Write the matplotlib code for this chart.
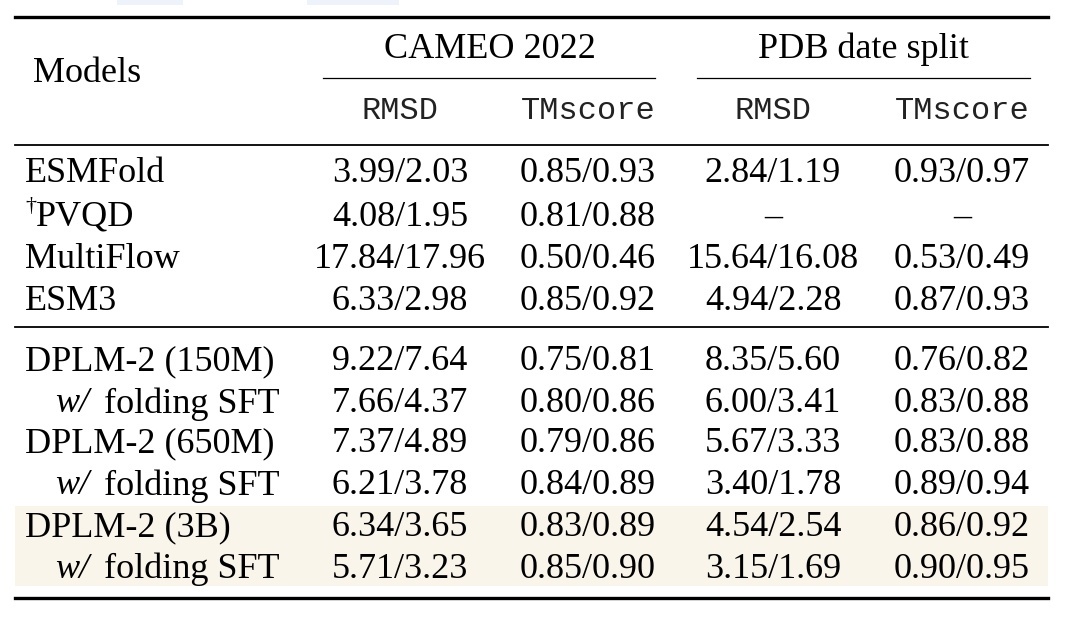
import matplotlib
matplotlib.use("Agg")
import matplotlib.pyplot as plt
from matplotlib.patches import Rectangle

models = ["ESMFold", "PVQD", "MultiFlow", "ESM3",
          "DPLM-2 (150M)", "w/ folding SFT", "DPLM-2 (650M)", "w/ folding SFT",
          "DPLM-2 (3B)", "w/ folding SFT"]
cameo_rmsd = ["3.99/2.03", "4.08/1.95", "17.84/17.96", "6.33/2.98",
              "9.22/7.64", "7.66/4.37", "7.37/4.89", "6.21/3.78", "6.34/3.65", "5.71/3.23"]
cameo_tm = ["0.85/0.93", "0.81/0.88", "0.50/0.46", "0.85/0.92",
            "0.75/0.81", "0.80/0.86", "0.79/0.86", "0.84/0.89", "0.83/0.89", "0.85/0.90"]
pdb_rmsd = ["2.84/1.19", "–", "15.64/16.08", "4.94/2.28",
            "8.35/5.60", "6.00/3.41", "5.67/3.33", "3.40/1.78", "4.54/2.54", "3.15/1.69"]
pdb_tm = ["0.93/0.97", "–", "0.53/0.49", "0.87/0.93",
          "0.76/0.82", "0.83/0.88", "0.83/0.88", "0.89/0.94", "0.86/0.92", "0.90/0.95"]
groups = ["CAMEO 2022", "PDB date split"]
metrics = ["RMSD", "TMscore", "RMSD", "TMscore"]

serif = "Liberation Serif"
mono = "Liberation Mono"
fs = 26

fig = plt.figure(figsize=(10.8, 6.22), dpi=100)
ax = fig.add_axes([0, 0, 1, 1])
ax.set_xlim(0, 1080)
ax.set_ylim(622, 0)
ax.axis("off")

ax.add_patch(Rectangle((117, 0), 66, 5, color="#eef3fb", lw=0))
ax.add_patch(Rectangle((307, 0), 92, 5, color="#eef3fb", lw=0))

ax.add_patch(Rectangle((15, 506), 1033, 80, color="#faf5eb", lw=0))

ax.plot([15, 1048], [17, 17], color="black", lw=2.4)
ax.plot([15, 1048], [145, 145], color="black", lw=1.3)
ax.plot([15, 1048], [327, 327], color="black", lw=1.3)
ax.plot([15, 1048], [598, 598], color="black", lw=2.4)
ax.plot([323, 655], [78, 78], color="black", lw=0.9)
ax.plot([697, 1030], [78, 78], color="black", lw=0.9)

dy = 3
ax.text(33, 70 + dy, "Models", fontsize=fs, family=serif, ha="left", va="center")
ax.text(490, 46 + dy, groups[0], fontsize=fs, family=serif, ha="center", va="center")
ax.text(863, 46 + dy, groups[1], fontsize=fs, family=serif, ha="center", va="center")

cols = [400, 588, 773, 962]
for x, m in zip(cols, metrics):
    ax.text(x, 111, m, fontsize=23, family=mono, ha="center", va="center", color="#222222")

row_y = [171, 214, 257, 299, 359, 401, 441, 483, 525, 566]
for i, (name, y) in enumerate(zip(models, row_y)):
    y = y + dy
    if name.startswith("w/"):
        ax.text(55, y, "w/", fontsize=fs, family=serif, style="italic", ha="left", va="center")
        ax.text(104, y, "folding SFT", fontsize=fs, family=serif, ha="left", va="center")
    elif name == "PVQD":
        ax.text(25, y - 10, "†", fontsize=16, family=serif, ha="left", va="center")
        ax.text(36, y, name, fontsize=fs, family=serif, ha="left", va="center")
    else:
        ax.text(25, y, name, fontsize=fs, family=serif, ha="left", va="center")
    for x, col in zip(cols, [cameo_rmsd, cameo_tm, pdb_rmsd, pdb_tm]):
        ax.text(x, y, col[i], fontsize=fs, family=serif, ha="center", va="center")

fig.savefig("out.png", dpi=100)
